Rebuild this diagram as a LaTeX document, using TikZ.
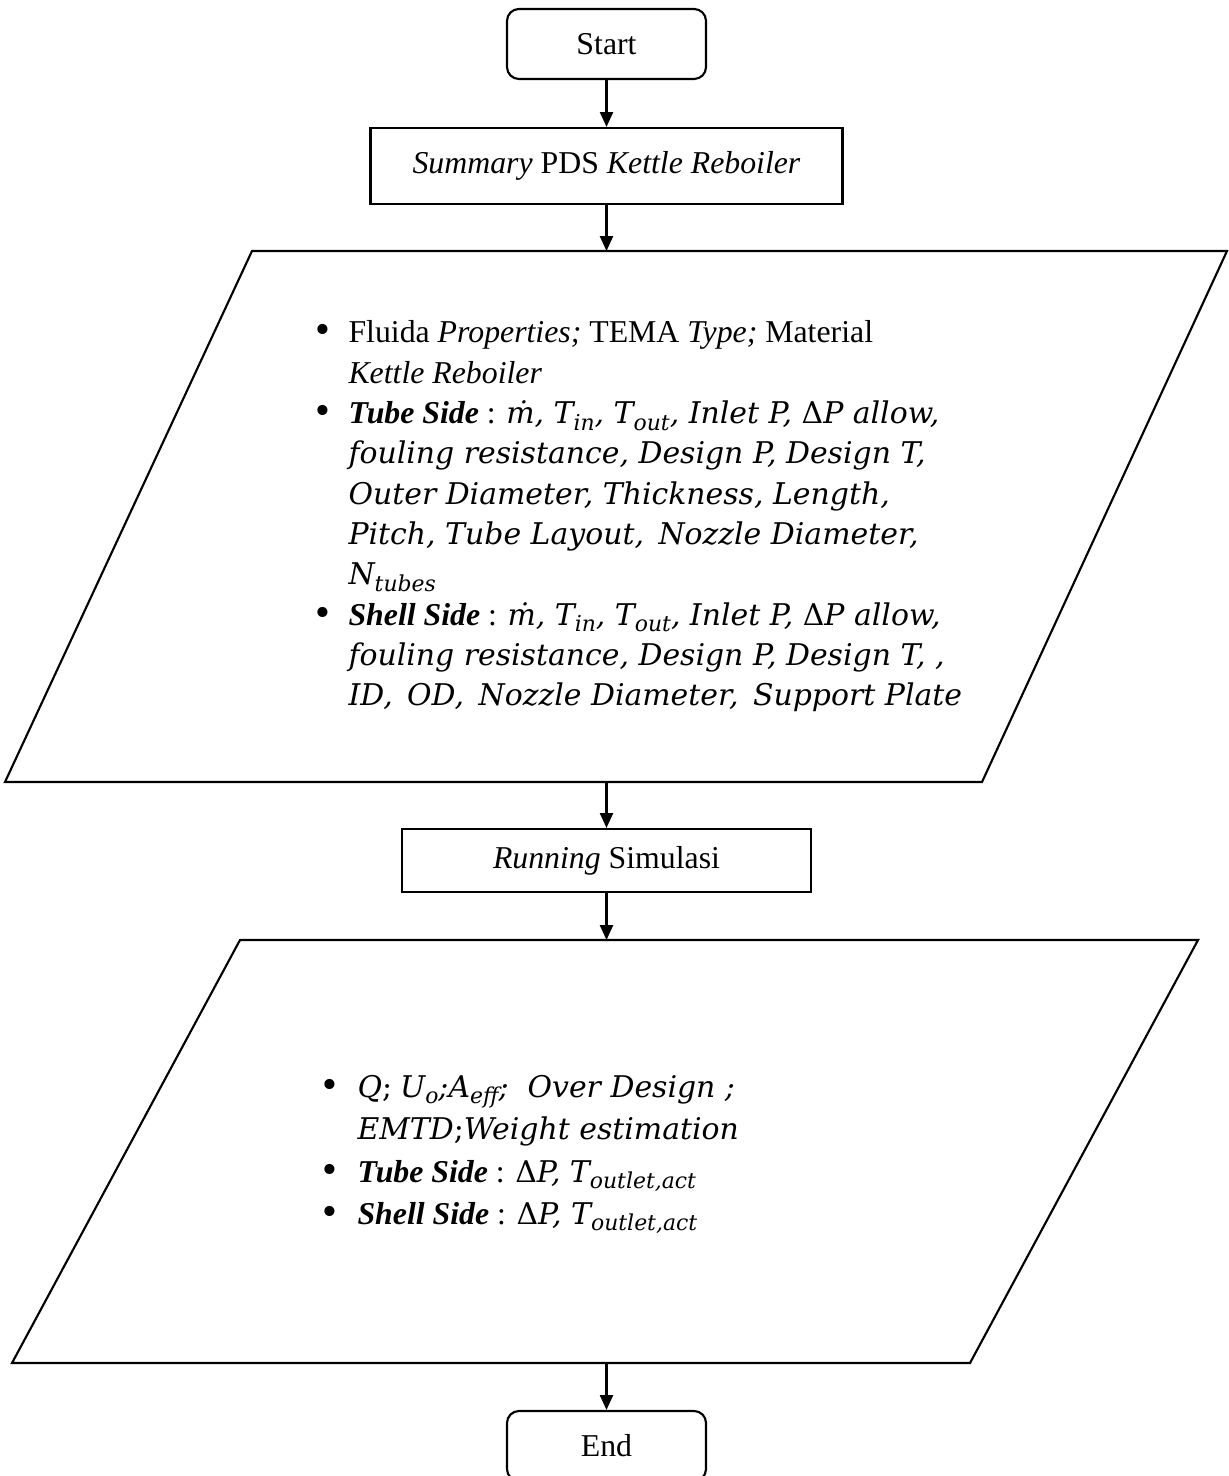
\documentclass[tikz,border=0pt]{standalone}
\usepackage{fontspec}
\setmainfont{Liberation Serif}
\newfontfamily\mf{DejaVu Serif}[Scale=0.94]
\usetikzlibrary{arrows.meta}
\newcommand{\mi}[1]{{\mf\itshape #1}}
\newcommand{\sbs}[1]{\raisebox{-0.45ex}{\mf\itshape\fontsize{8.8}{8.8}\selectfont #1}}
\newcommand{\bi}[1]{\textbf{\textit{#1}}}
\tikzset{
  box/.style={draw, line width=0.8pt, inner sep=0pt, font=\fontsize{12}{14}\selectfont},
  term/.style={box, rounded corners=4.5pt, minimum width=199*0.3774pt, minimum height=70*0.3774pt},
  proc/.style={box},
  txt/.style={anchor=base west, inner sep=0pt, font=\fontsize{12}{14}\selectfont},
  bul/.style={anchor=base, inner sep=0pt, font=\fontsize{16}{16}\selectfont},
  flow/.style={line width=0.8pt, -{Triangle[length=5.6pt, width=4.9pt]}},
  shapeline/.style={line width=0.8pt, line join=miter}
}
\begin{document}
\begin{tikzpicture}[x=0.3774pt, y=-0.3774pt]
\useasboundingbox (0,0) rectangle (1228,1476);

% terminals and process boxes
\node[term] (start) at (606.5,44) {Start};
\node[proc, minimum width=472*0.3774pt, minimum height=76*0.3774pt] (sum) at (606.5,166) {\textit{Summary} PDS \textit{Kettle Reboiler}};
\node[proc, minimum width=409*0.3774pt, minimum height=63*0.3774pt] (run) at (606.5,860.5) {\textit{Running} Simulasi};
\node[term] (end) at (606.5,1446) {End};

% input parallelogram
\draw[shapeline] (252,251) -- (1227,251) -- (982,782) -- (5,782) -- cycle;
\coordinate (in1top) at (606.5,251);
\coordinate (in1bot) at (606.5,782);

% output parallelogram
\draw[shapeline] (240,940) -- (1198,940) -- (970,1363) -- (12,1363) -- cycle;
\coordinate (out2top) at (606.5,940);
\coordinate (out2bot) at (606.5,1363);

% connectors
\draw[flow] (start) -- (sum);
\draw[flow] (sum) -- (in1top);
\draw[flow] (in1bot) -- (run);
\draw[flow] (run) -- (out2top);
\draw[flow] (out2bot) -- (end);

% input text
\node[bul] (b1) at (323,344) {•};
\node[txt] (l1) at (348,343) {Fluida \textit{Properties;} TEMA \textit{Type;} Material};
\node[txt] (l2) at (348,383.3) {\textit{Kettle Reboiler}};
\node[bul] (b2) at (323,424.6) {•};
\node[txt] (l3) at (348,423.6) {\bi{Tube Side} : \mi{ṁ, T}\sbs{in}\mi{, T}\sbs{out}\mi{, Inlet P, }{\mf Δ}\mi{P allow,}};
\node[txt] (l4) at (348,463.9) {\mi{fouling resistance, Design P, Design T,}};
\node[txt] (l5) at (348,504.2) {\mi{Outer Diameter, Thickness, Length,}};
\node[txt] (l6) at (348,544.5) {\mi{Pitch, Tube Layout, \,Nozzle Diameter,}};
\node[txt] (l7) at (348,584.8) {\mi{N}\sbs{tubes}};
\node[bul] (b3) at (323,626.1) {•};
\node[txt] (l8) at (348,625.1) {\bi{Shell Side} : \mi{ṁ, T}\sbs{in}\mi{, T}\sbs{out}\mi{, Inlet P, }{\mf Δ}\mi{P allow,}};
\node[txt] (l9) at (348,665.4) {\mi{fouling resistance, Design P, Design T, ,}};
\node[txt] (l10) at (348,705.7) {\mi{ID, \,OD, \,Nozzle Diameter, \,Support Plate}};

% output text
\node[bul] (c1) at (330,1098) {•};
\node[txt] (m1) at (357,1097) {\mi{Q}{\mf ;} \mi{U}\sbs{o}\mi{;A}\sbs{eff}\mi{; \ Over Design ;}};
\node[txt] (m2) at (357,1139) {\mi{EMTD}{\mf ;}\mi{Weight estimation}};
\node[bul] (c2) at (330,1183) {•};
\node[txt] (m3) at (357,1182) {\bi{Tube Side} : {\mf Δ}\mi{P, T}\sbs{outlet,act}};
\node[bul] (c3) at (330,1225) {•};
\node[txt] (m4) at (357,1224) {\bi{Shell Side} : {\mf Δ}\mi{P, T}\sbs{outlet,act}};
\end{tikzpicture}
\end{document}
